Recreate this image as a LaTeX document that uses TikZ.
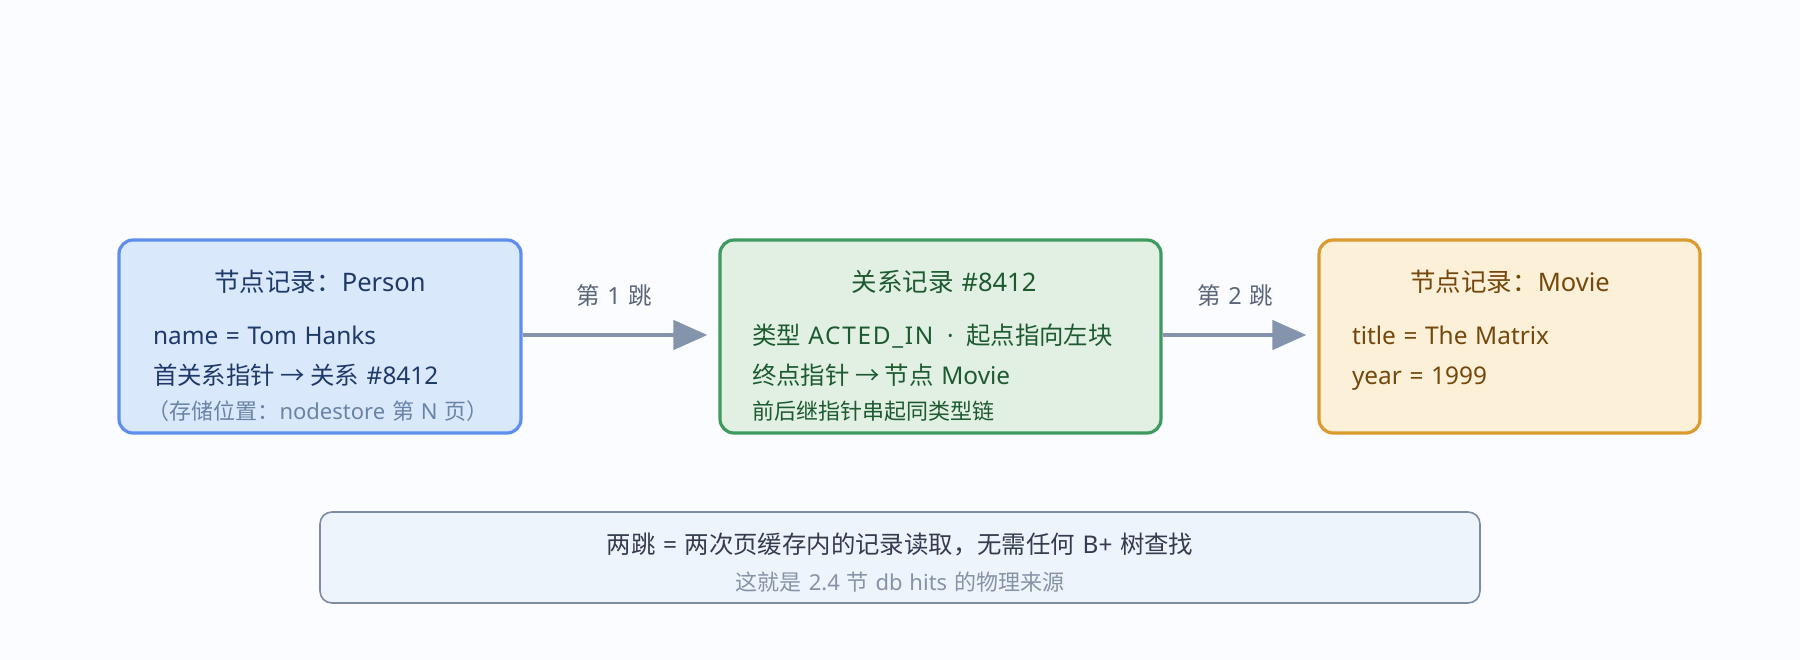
\documentclass[tikz,border=0pt]{standalone}
\usepackage{fontspec}
\setmainfont[WordSpace=1.2]{Noto Sans}
\newfontfamily\cjkfont{Noto Sans CJK SC}
\newfontfamily\widefont[WordSpace=1.2,LetterSpace=7]{Noto Sans}
\newcommand\zh[1]{{\cjkfont #1}}
\usetikzlibrary{arrows.meta}
\definecolor{bgc}{HTML}{FAFCFF}
\definecolor{bluefill}{HTML}{DAE8FC}
\definecolor{blueline}{HTML}{5E8FEC}
\definecolor{bluetext}{HTML}{1F3A68}
\definecolor{bluesub}{HTML}{6A84A6}
\definecolor{greenfill}{HTML}{E1F0E2}
\definecolor{greenline}{HTML}{3F9A60}
\definecolor{greentext}{HTML}{1D5A32}
\definecolor{orangefill}{HTML}{FDF0D8}
\definecolor{orangeline}{HTML}{DB9A2E}
\definecolor{orangetext}{HTML}{74480C}
\definecolor{arrowc}{HTML}{8594AD}
\definecolor{labelc}{HTML}{5B6579}
\definecolor{notefill}{HTML}{EEF4FB}
\definecolor{noteline}{HTML}{7D8BA3}
\definecolor{notetext}{HTML}{333D4F}
\definecolor{notesub}{HTML}{8692A6}
\tikzset{
  recbox/.style={draw, line width=3.2pt, rounded corners=14pt, inner sep=0pt},
  txt/.style={inner sep=0pt, outer sep=0pt},
  titlefont/.style={font=\fontsize{25.5}{30}\selectfont, text height=22.4pt, text depth=3.1pt},
  bodyfont/.style={font=\fontsize{24.4}{29}\selectfont, text height=21.5pt, text depth=2.9pt},
  smallfont/.style={font=\fontsize{22}{26}\selectfont, text height=19.4pt, text depth=2.6pt},
  hop/.style={line width=4.6pt, draw=arrowc, -{Triangle[length=34pt,width=29pt]}, shorten >=11pt},
  hoplabel/.style={txt, text=labelc, font=\fontsize{23.5}{28}\selectfont, text height=20.7pt, text depth=2.8pt}
}
\begin{document}
\begin{tikzpicture}[x=1pt,y=-1pt]
\useasboundingbox (0,0) rectangle (1800,660);
\fill[bgc] (0,0) rectangle (1800,660);
% boxes
\node[recbox, draw=blueline, fill=bluefill, minimum width=402pt, minimum height=193pt] (person) at (320,336.5) {};
\node[recbox, draw=greenline, fill=greenfill, minimum width=441pt, minimum height=193pt] (rel) at (940.5,336.5) {};
\node[recbox, draw=orangeline, fill=orangefill, minimum width=381pt, minimum height=193pt] (movie) at (1509.5,336.5) {};
\node[draw=noteline, fill=notefill, line width=1.6pt, rounded corners=12pt, minimum width=1160pt, minimum height=91pt, inner sep=0pt] (note) at (900,557.5) {};
% person text
\node[txt, titlefont, text=bluetext] (pt) at (320,282) {\zh{节点记录：}Person};
\node[txt, bodyfont, text=bluetext, anchor=west] (p1) at (153,335) {name = Tom Hanks};
\node[txt, bodyfont, text=bluetext, anchor=west] (p2) at (153,375) {\zh{首关系指针 → 关系} \#8412};
\node[txt, smallfont, text=bluesub] (p3) at (318,411) {\zh{（存储位置：}nodestore \zh{第} N \zh{页）}};
% relationship text
\node[txt, titlefont, text=greentext] (rt) at (944,282) {\zh{关系记录} \#8412};
\node[txt, bodyfont, text=greentext, anchor=west] (r1) at (752,335) {\zh{类型} {\widefont ACTED\_IN}\hspace{0.25em} · \hspace{0.2em}\zh{起点指向左块}};
\node[txt, bodyfont, text=greentext, anchor=west] (r2) at (752,375) {\zh{终点指针 → 节点} Movie};
\node[txt, smallfont, text=greentext, anchor=west] (r3) at (752,411) {\zh{前后继指针串起同类型链}};
% movie text
\node[txt, titlefont, text=orangetext] (mt) at (1510,282) {\zh{节点记录：}Movie};
\node[txt, bodyfont, text=orangetext, anchor=west] (m1) at (1352,335) {title = The Matrix};
\node[txt, bodyfont, text=orangetext, anchor=west] (m2) at (1352,375) {year = 1999};
% arrows
\draw[hop] (person.east |- p1) -- (rel.west |- p1);
\draw[hop] (rel.east |- p1) -- (movie.west |- p1);
\node[hoplabel] (l1) at (614,296) {\zh{第} 1 \zh{跳}};
\node[hoplabel] (l2) at (1235,296) {\zh{第} 2 \zh{跳}};
% note text
\node[txt, bodyfont, text=notetext] (n1) at (900,544) {\zh{两跳} = \zh{两次页缓存内的记录读取，无需任何} B+ \zh{树查找}};
\node[txt, smallfont, text=notesub] (n2) at (900,582) {\zh{这就是} 2.4 \zh{节} db hits \zh{的物理来源}};
\end{tikzpicture}
\end{document}
